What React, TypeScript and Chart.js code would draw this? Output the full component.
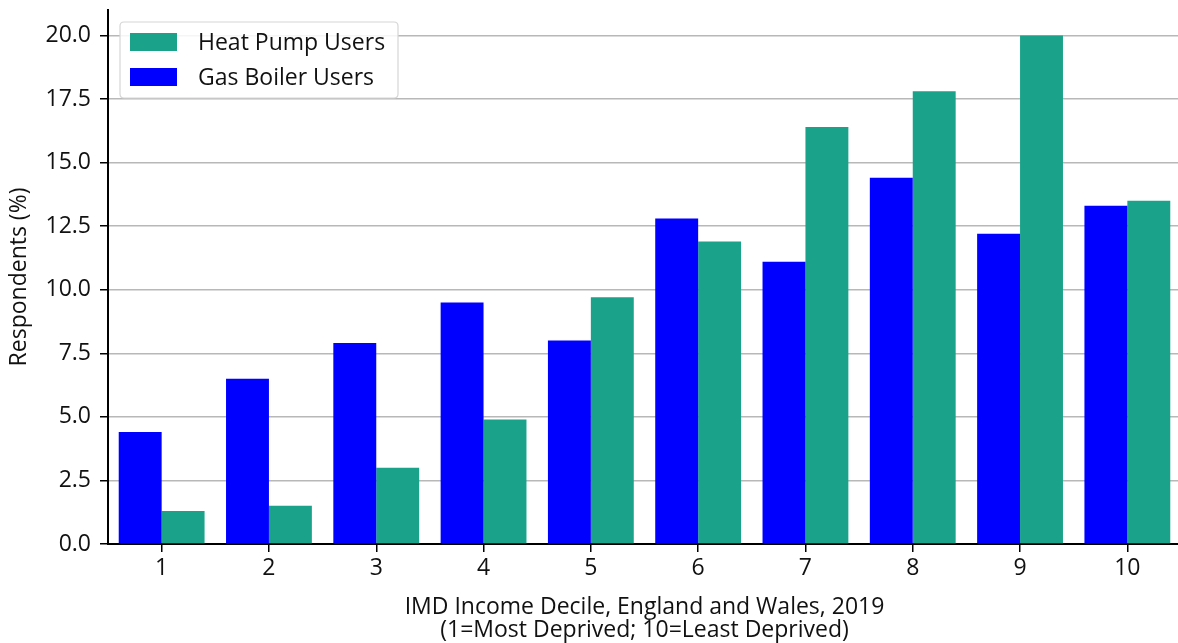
import React, { useEffect, useRef } from 'react';
import { Chart, registerables } from 'chart.js';

Chart.register(...registerables);

const categories = ['1', '2', '3', '4', '5', '6', '7', '8', '9', '10'];
const gasBoilerValues = [4.4, 6.5, 7.9, 9.5, 8.0, 12.8, 11.1, 14.4, 12.2, 13.3];
const heatPumpValues = [1.3, 1.5, 3.0, 4.9, 9.7, 11.9, 16.4, 17.8, 20.0, 13.5];
const seriesLabels = ['Gas Boiler Users', 'Heat Pump Users'];
const seriesColors = ['#0000ff', '#1aa38a'];
const xTitle = ['IMD Income Decile, England and Wales, 2019', '(1=Most Deprived; 10=Least Deprived)'];
const yTitle = 'Respondents (%)';

const FONT = "'Open Sans', sans-serif";
const FS = 23;

const insideLegend = {
  id: 'insideLegend',
  afterDatasetsDraw(chart: any) {
    const ctx = chart.ctx as CanvasRenderingContext2D;
    const { left, top } = chart.chartArea;
    const items = chart.data.datasets
      .map((d: any) => ({ label: d.label, color: d.backgroundColor }))
      .reverse();
    const x = left + 12;
    const y = top + 12;
    const w = 278;
    const h = 76;
    const r = 4;
    ctx.save();
    ctx.beginPath();
    ctx.moveTo(x + r, y);
    ctx.lineTo(x + w - r, y);
    ctx.quadraticCurveTo(x + w, y, x + w, y + r);
    ctx.lineTo(x + w, y + h - r);
    ctx.quadraticCurveTo(x + w, y + h, x + w - r, y + h);
    ctx.lineTo(x + r, y + h);
    ctx.quadraticCurveTo(x, y + h, x, y + h - r);
    ctx.lineTo(x, y + r);
    ctx.quadraticCurveTo(x, y, x + r, y);
    ctx.closePath();
    ctx.fillStyle = 'rgba(255,255,255,0.85)';
    ctx.fill();
    ctx.strokeStyle = '#d6d6d6';
    ctx.lineWidth = 1.2;
    ctx.stroke();
    items.forEach((it: any, i: number) => {
      ctx.fillStyle = it.color;
      ctx.fillRect(x + 10, y + 11 + i * 35, 47, 18);
      ctx.fillStyle = '#111111';
      ctx.font = `${FS}px ${FONT}`;
      ctx.textBaseline = 'middle';
      ctx.textAlign = 'left';
      ctx.fillText(it.label, x + 78, y + 21 + i * 35);
    });
    ctx.restore();
  },
};

export default function App() {
  const canvasRef = useRef<HTMLCanvasElement | null>(null);

  useEffect(() => {
    document.body.style.margin = '0';
    document.body.style.overflow = 'hidden';
    const canvas = canvasRef.current;
    if (!canvas) return;
    const chart = new Chart(canvas, {
      type: 'bar',
      data: {
        labels: categories,
        datasets: [
          {
            label: seriesLabels[0],
            data: gasBoilerValues,
            backgroundColor: seriesColors[0],
            categoryPercentage: 0.8,
            barPercentage: 1.0,
          },
          {
            label: seriesLabels[1],
            data: heatPumpValues,
            backgroundColor: seriesColors[1],
            categoryPercentage: 0.8,
            barPercentage: 1.0,
          },
        ],
      },
      options: {
        responsive: false,
        animation: false,
        layout: { padding: { top: 10, left: 0, right: 0, bottom: 0 } },
        plugins: {
          legend: { display: false },
          tooltip: { enabled: false },
        },
        scales: {
          x: {
            offset: true,
            grid: {
              display: true,
              offset: false,
              drawOnChartArea: false,
              drawTicks: true,
              tickLength: 8,
              tickColor: '#000000',
              lineWidth: 1.5,
            },
            border: { display: true, color: '#000000', width: 2 },
            ticks: {
              color: '#111111',
              font: { family: FONT, size: FS },
              padding: 3,
              maxRotation: 0,
            },
            title: {
              display: true,
              text: xTitle,
              color: '#111111',
              font: { family: FONT, size: FS, lineHeight: 0.96 },
              padding: { top: 0, bottom: 2 },
            },
            afterFit: (s: any) => {
              s.height = 99;
              s.paddingLeft = 0;
              s.paddingRight = 0;
            },
          },
          y: {
            min: 0,
            max: 21,
            ticks: {
              stepSize: 2.5,
              includeBounds: false,
              color: '#111111',
              font: { family: FONT, size: FS },
              padding: 9,
              callback: (v: any) => Number(v).toFixed(1),
            },
            grid: {
              color: '#b8b8b8',
              lineWidth: 1.5,
              tickColor: '#000000',
              tickLength: 8,
            },
            border: { display: true, color: '#000000', width: 2 },
            title: {
              display: true,
              text: yTitle,
              color: '#111111',
              font: { family: FONT, size: FS, lineHeight: 1.2 },
              padding: { top: 6, bottom: 0 },
            },
            afterFit: (s: any) => {
              s.width = 108;
              s.paddingTop = 0;
              s.paddingBottom = 0;
            },
          },
        },
      },
      plugins: [insideLegend],
    });
    return () => chart.destroy();
  }, []);

  return (
    <div style={{ width: 1178, height: 643, overflow: 'hidden', background: '#fff' }}>
      <canvas ref={canvasRef} width={1181} height={643} style={{ display: 'block' }} />
    </div>
  );
}
